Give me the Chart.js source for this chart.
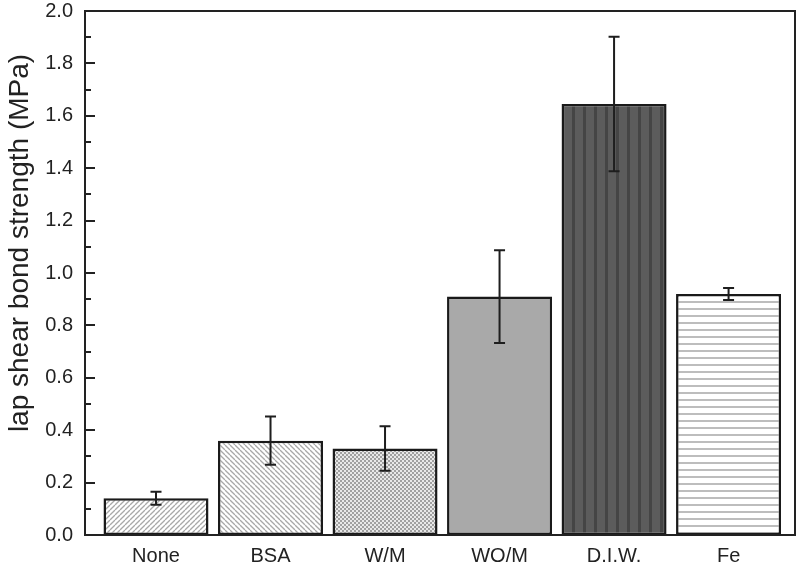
<!DOCTYPE html>
<html>
<head>
<meta charset="utf-8">
<script src="https://cdn.jsdelivr.net/npm/chart.js@4.4.0/dist/chart.umd.min.js"></script>
<style>
  html, body { margin: 0; padding: 0; background: #fff; }
  #wrap { width: 800px; height: 565px; position: relative; }
</style>
</head>
<body>
<div id="wrap"><canvas id="c" width="800" height="565"></canvas></div>
<script>
// ---- data ----
const categories = ['None', 'BSA', 'W/M', 'WO/M', 'D.I.W.', 'Fe'];
const strength = [0.14, 0.36, 0.33, 0.91, 1.645, 0.92];
const errors = [0.025, 0.092, 0.085, 0.177, 0.257, 0.023];
const yTicks = [0.0, 0.2, 0.4, 0.6, 0.8, 1.0, 1.2, 1.4, 1.6, 1.8, 2.0];
const yTitle = 'lap shear bond strength (MPa)';

const FONT = '"Liberation Sans", Arial, Helvetica, sans-serif';

function tile(w, h, draw) {
  const c = document.createElement('canvas');
  c.width = w; c.height = h;
  const g = c.getContext('2d');
  draw(g, w, h);
  return document.getElementById('c').getContext('2d').createPattern(c, 'repeat');
}
const patNone = tile(5, 5, (g, w, h) => {
  g.fillStyle = '#fff'; g.fillRect(0, 0, w, h);
  g.strokeStyle = '#a8a8a8'; g.lineWidth = 1.3;
  for (let k = -1; k <= 1; k++) {
    g.beginPath(); g.moveTo(k * w, h); g.lineTo(k * w + w, 0); g.stroke();
  }
});
const patBSA = tile(5, 5, (g, w, h) => {
  g.fillStyle = '#fff'; g.fillRect(0, 0, w, h);
  g.strokeStyle = '#a8a8a8'; g.lineWidth = 1.3;
  for (let k = -1; k <= 1; k++) {
    g.beginPath(); g.moveTo(k * w, 0); g.lineTo(k * w + w, h); g.stroke();
  }
});
const patWM = tile(4, 4, (g, w, h) => {
  g.fillStyle = '#e8e8e8'; g.fillRect(0, 0, w, h);
  g.fillStyle = '#a0a0a0'; g.fillRect(0, 0, 2, 2); g.fillRect(2, 2, 2, 2);
});
const patDIW = tile(11, 4, (g, w, h) => {
  g.fillStyle = '#5c5c5c'; g.fillRect(0, 0, w, h);
  g.fillStyle = '#454545'; g.fillRect(0, 0, 3, h);
});
const patFe = tile(4, 7, (g, w, h) => {
  g.fillStyle = '#fff'; g.fillRect(0, 0, w, h);
  g.fillStyle = '#bdbdbd'; g.fillRect(0, 0, w, 2);
});
const fills = [patNone, patBSA, patWM, '#a9a9a9', patDIW, patFe];

const errorBars = {
  id: 'errorBars',
  afterDatasetsDraw(chart) {
    const ctx = chart.ctx, xs = chart.scales.x, ys = chart.scales.y;
    ctx.save();
    ctx.strokeStyle = '#1e1e1e';
    ctx.lineWidth = 2;
    strength.forEach((v, i) => {
      const x = xs.getPixelForValue(i);
      const t = ys.getPixelForValue(v + errors[i]);
      const b = ys.getPixelForValue(v - errors[i]);
      ctx.beginPath();
      ctx.moveTo(x, t); ctx.lineTo(x, b);
      ctx.moveTo(x - 5.5, t); ctx.lineTo(x + 5.5, t);
      ctx.moveTo(x - 5.5, b); ctx.lineTo(x + 5.5, b);
      ctx.stroke();
    });
    ctx.restore();
  }
};

const frame = {
  id: 'frame',
  afterDraw(chart) {
    const ctx = chart.ctx, a = chart.chartArea, ys = chart.scales.y;
    ctx.save();
    ctx.strokeStyle = '#222';
    ctx.lineWidth = 2;
    ctx.strokeRect(a.left, a.top, a.right - a.left, a.bottom - a.top);
    ctx.beginPath();
    for (let k = 0; k <= 20; k++) {
      const y = Math.round(ys.getPixelForValue(k / 10));
      const len = (k % 2 === 0) ? 10 : 6;
      ctx.moveTo(a.left, y); ctx.lineTo(a.left + len, y);
    }
    ctx.stroke();
    // y-axis title
    ctx.fillStyle = '#222';
    ctx.font = '28px ' + FONT;
    ctx.textAlign = 'center';
    ctx.textBaseline = 'middle';
    ctx.translate(20, 243);
    ctx.rotate(-Math.PI / 2);
    ctx.fillText(yTitle, 0, 0);
    ctx.restore();
  }
};

new Chart(document.getElementById('c'), {
  type: 'bar',
  data: {
    datasets: [{
      data: strength.map((v, i) => ({ x: i, y: v })),
      backgroundColor: fills,
      borderColor: '#1a1a1a',
      borderWidth: 2.5,
      borderSkipped: false,
      barPercentage: 0.917,
      categoryPercentage: 1
    }]
  },
  options: {
    responsive: false,
    animation: false,
    devicePixelRatio: 1,
    layout: { padding: { top: 11, right: 5, left: 0, bottom: 0 } },
    plugins: { legend: { display: false }, tooltip: { enabled: false } },
    scales: {
      x: {
        type: 'linear',
        offset: false,
        min: -0.62,
        max: 5.58,
        afterBuildTicks(scale) { scale.ticks = categories.map((c, i) => ({ value: i })); },
        afterFit(scale) { scale.height = 30; scale.paddingLeft = 0; scale.paddingRight = 0; },
        grid: { display: false, drawTicks: false, offset: false },
        border: { display: false },
        ticks: {
          autoSkip: false,
          maxRotation: 0,
          padding: 9,
          color: '#222',
          font: { family: FONT, size: 20 },
          callback: (v) => categories[v] !== undefined ? categories[v] : ''
        }
      },
      y: {
        min: 0,
        max: 2.0,
        afterBuildTicks(scale) { scale.ticks = yTicks.map(v => ({ value: v })); },
        afterFit(scale) { scale.width = 85; scale.paddingTop = 0; scale.paddingBottom = 0; },
        grid: { display: false, drawTicks: false },
        border: { display: false },
        ticks: {
          padding: 12,
          color: '#222',
          font: { family: FONT, size: 20 },
          callback: (v) => Number(v).toFixed(1)
        }
      }
    }
  },
  plugins: [errorBars, frame]
});
</script>
</body>
</html>
